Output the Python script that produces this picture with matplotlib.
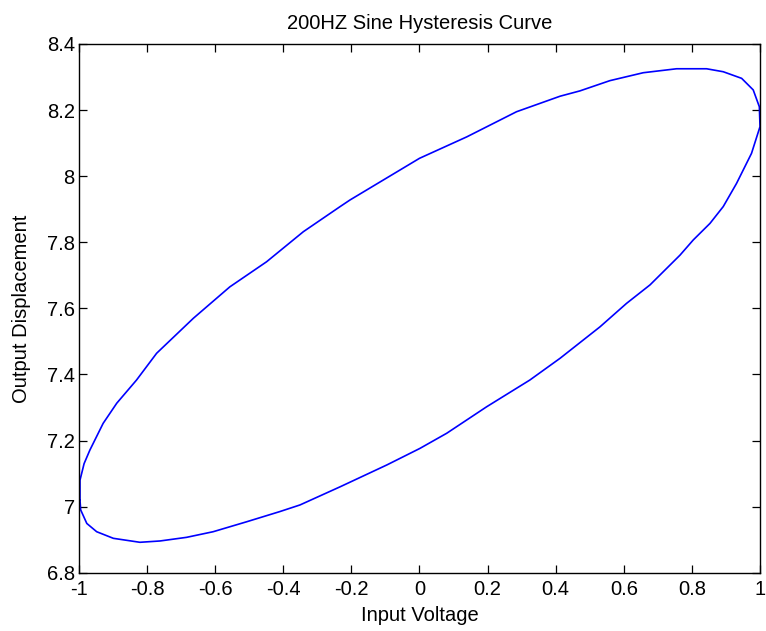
import matplotlib
matplotlib.use("Agg")
import matplotlib.pyplot as plt

# Hysteresis loop (upper branch left->right, lower branch right->left)
input_voltage = [
    -0.997, -0.997, -0.985, -0.968, -0.929, -0.889, -0.831, -0.772, -0.664, -0.557,
    -0.449, -0.341, -0.233, -0.204, 0.000, 0.139, 0.285, 0.413, 0.471, 0.559,
    0.657, 0.755, 0.843, 0.892, 0.946, 0.980, 0.998, 1.000,
    0.975, 0.931, 0.892, 0.853, 0.804, 0.765, 0.677, 0.608, 0.530, 0.413,
    0.324, 0.197, 0.080, 0.001, -0.096, -0.233, -0.351, -0.410, -0.508, -0.606,
    -0.684, -0.762, -0.821, -0.899, -0.948, -0.977, -0.995, -0.997,
]
output_displacement = [
    7.020, 7.080, 7.130, 7.171, 7.252, 7.313, 7.383, 7.464, 7.570, 7.665,
    7.741, 7.832, 7.908, 7.928, 8.054, 8.119, 8.195, 8.242, 8.258, 8.289,
    8.313, 8.325, 8.325, 8.316, 8.296, 8.261, 8.210, 8.150,
    8.069, 7.978, 7.908, 7.857, 7.807, 7.761, 7.671, 7.615, 7.544, 7.449,
    7.383, 7.302, 7.222, 7.176, 7.126, 7.060, 7.005, 6.985, 6.954, 6.924,
    6.907, 6.896, 6.892, 6.904, 6.924, 6.949, 6.990, 7.020,
]

x_ticks = [-1, -0.8, -0.6, -0.4, -0.2, 0, 0.2, 0.4, 0.6, 0.8, 1]
x_tick_labels = ["-1", "-0.8", "-0.6", "-0.4", "-0.2", "0", "0.2", "0.4", "0.6", "0.8", "1"]
y_ticks = [6.8, 7.0, 7.2, 7.4, 7.6, 7.8, 8.0, 8.2, 8.4]
y_tick_labels = ["6.8", "7", "7.2", "7.4", "7.6", "7.8", "8", "8.2", "8.4"]

plt.rcParams["font.family"] = ["Liberation Sans", "DejaVu Sans"]
fs = 14.5

fig = plt.figure(figsize=(7.66, 6.31), dpi=100)
ax = fig.add_axes([0.1031, 0.0924, 0.8891, 0.8379])
ax.plot(input_voltage, output_displacement, color=(0, 0, 1), linewidth=1.2)

ax.set_xlim(-1, 1)
ax.set_ylim(6.8, 8.4)
ax.set_xticks(x_ticks)
ax.set_xticklabels(x_tick_labels, fontsize=fs)
ax.set_yticks(y_ticks)
ax.set_yticklabels(y_tick_labels, fontsize=fs)
ax.tick_params(direction="in", top=True, right=True, length=6, width=0.9)
ax.tick_params(axis="x", pad=5)
ax.tick_params(axis="y", pad=3)
for s in ax.spines.values():
    s.set_linewidth(1.0)

ax.set_title("200HZ Sine Hysteresis Curve", fontsize=fs, pad=11)
ax.set_xlabel("Input Voltage", fontsize=fs, labelpad=5)
ax.set_ylabel("Output Displacement", fontsize=fs, labelpad=11)

fig.savefig("out.png", dpi=100)
